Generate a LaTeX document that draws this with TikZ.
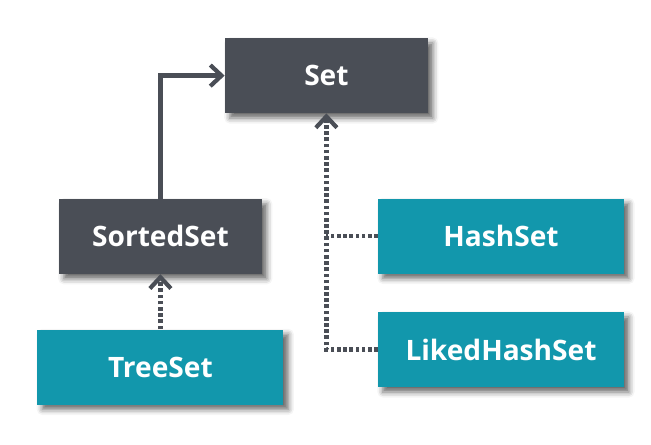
\documentclass[tikz,border=0pt]{standalone}
\usepackage{fontspec}
\setmainfont{Open Sans}
\usetikzlibrary{positioning,arrows.meta,shadows,shadows.blur}
\definecolor{slate}{HTML}{4A4E56}
\definecolor{teal}{HTML}{1297AC}

\begin{document}
\begin{tikzpicture}[
>={Straight Barb[length=8pt,width=15pt]},
box/.style={
	rectangle,
	text=white,
	font=\fontsize{20}{24}\selectfont\bfseries,
	minimum height=1.875cm,
	blur shadow={shadow xshift=3.5pt,shadow yshift=-3.5pt,shadow blur radius=4pt,shadow opacity=60}
},
iface/.style={
	box,
	fill=slate,
	minimum width=5.075cm
},
impl/.style={
	box,
	fill=teal,
	minimum width=6.15cm
},
extends/.style={
	->,
	draw=slate,
	line width=3pt
},
realizes/.style={
	draw=slate,
	line width=3pt,
	dash pattern=on 2.6pt off 1.8pt
}
]
\useasboundingbox (0,0) rectangle (16.275,11.1);

\node[iface] (set) at (8.16,9.21) {Set};
\node[iface] (sorted) at (4.01,5.19) {SortedSet};
\node[impl] (tree) at (4.01,1.925) {TreeSet};
\node[impl] (hash) at (12.525,5.2) {HashSet};
\node[impl] (liked) at (12.525,2.36) {LikedHashSet};

\draw[extends] (sorted.north) |- (set.west);
\draw[realizes,->] (tree.north) -- (sorted.south);
\draw[realizes] (hash.west) -- (hash.west -| set.south);
\draw[realizes,->] (liked.west) -| (set.south);
\end{tikzpicture}
\end{document}
